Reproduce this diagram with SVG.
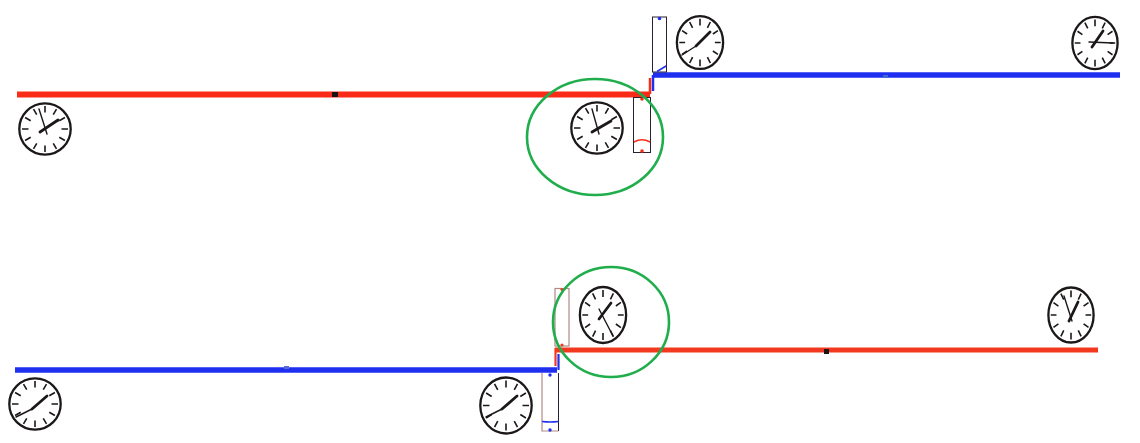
<svg xmlns="http://www.w3.org/2000/svg" width="1140" height="443" viewBox="0 0 1140 443">
<style>
.bg{fill:#fff}
.red{stroke:#fb2c17;fill:none}
.redb{stroke:#f2391f;fill:none}
.blue{stroke:#1f2ff0;fill:none}
.ring{stroke:#1fae4b;stroke-width:2.6;fill:none}
.face{fill:#fff;stroke:#1c1818;stroke-width:2.3;vector-effect:non-scaling-stroke}
.tick{stroke:#1c1818;stroke-width:1.6;fill:none;vector-effect:non-scaling-stroke}
.h{stroke:#1c1818;stroke-width:2.8;stroke-linecap:round;fill:none}
.m{stroke:#1c1818;stroke-width:1.4;stroke-linecap:round;fill:none}
.box{fill:#fff;stroke:#2a2030;stroke-width:1}
.boxp{fill:#fff;stroke:#b08a88;stroke-width:1.2}
</style>
<defs>
<g id="dial">
<ellipse class="face" rx="25.7" ry="25.7"/>
<path class="tick" d="M0-23V-16.500M0 23V16.500M-23 0H-16.500M23 0H16.500M11.500-19.900 8.250-14.300M-11.500-19.900-8.250-14.300M11.500 19.900 8.250 14.300M-11.500 19.900-8.250 14.300M19.900-11.500 14.300-8.250M-19.900-11.500-14.300-8.250M19.900 11.500 14.300 8.250M-19.900 11.500-14.300 8.250"/>
</g>
</defs>
<rect class="bg" width="1140" height="443"/>
<g id="connectors">
<path class="red" stroke-width="6" d="M17 94.500H650"/>
<path class="red" stroke-width="2.500" d="M650 78V94"/>
<path class="blue" stroke-width="5.500" d="M653 75H1120"/>
<path class="blue" stroke-width="2.500" d="M653 75V91"/>
<path class="blue" stroke-width="5.500" d="M15 370H557"/>
<path class="blue" stroke-width="2.200" d="M558.500 354V370"/>
<path class="redb" stroke-width="5" d="M555 350H1098"/>
<path class="redb" stroke-width="2.200" d="M555.500 348V366"/>
</g>
<g id="marker-top-red"><rect x="332" y="92" width="6" height="5" fill="#1c1414"/></g>
<g id="marker-top-blue"><rect x="883" y="75" width="5" height="3" fill="#3f6ad0"/></g>
<g id="marker-bottom-red"><rect x="824" y="349" width="5" height="5" fill="#1c1414"/></g>
<g id="marker-bottom-blue"><rect x="284" y="366" width="5" height="3" fill="#5a6ad0"/></g>
<g id="tank-top-blue">
<rect class="box" x="652.500" y="17" width="14" height="55"/>
<circle cx="659.500" cy="18.500" r="1.800" fill="#1f2ff0"/>
<path class="blue" stroke-width="1.500" d="M657 71.500 666 66"/>
</g>
<g id="tank-top-red">
<rect class="box" x="633.500" y="97.500" width="17" height="55"/>
<path class="red" stroke-width="1.500" d="M634 142Q642 137.500 650 142"/>
<circle cx="642" cy="99" r="1.800" fill="#fb2c17"/>
<circle cx="642" cy="151" r="1.800" fill="#fb2c17"/>
</g>
<g id="tank-bottom-upper">
<rect class="boxp" x="555" y="288.500" width="14" height="57.500"/>
<circle cx="562" cy="289.500" r="1.600" fill="#f2391f"/>
<circle cx="562" cy="345" r="1.600" fill="#f2391f"/>
</g>
<g id="tank-bottom-lower">
<path class="boxp" d="M542 373V431H558.500"/>
<path class="box" fill="none" d="M558.500 373V431"/>
<path class="blue" stroke-width="1.500" d="M542 421.500Q550 422.500 558.500 421.500"/>
<circle cx="550" cy="375" r="1.700" fill="#1f2ff0"/>
<circle cx="550" cy="430" r="1.700" fill="#1f2ff0"/>
</g>
<g id="clock-1">
<use href="#dial" transform="translate(45 129)"/>
<path class="h" d="M40 132 58 120"/><path class="m" d="M39 109 47 134"/>
</g>
<g id="clock-2">
<use href="#dial" transform="translate(597 128)"/>
<path class="h" d="M592 132 611 121"/><path class="m" d="M592 109 599 134"/>
</g>
<g id="clock-3">
<use href="#dial" transform="translate(700 42.500) scale(.9 1.030)"/>
<path class="h" d="M696 46 710 32"/><path class="m" d="M682 55 696 46"/>
</g>
<g id="clock-4">
<use href="#dial" transform="translate(1095 43) scale(.88 1.020)"/>
<path class="h" d="M1092 47 1103 31"/><path class="m" d="M1089 42 1113 43"/>
</g>
<g id="clock-5">
<use href="#dial" transform="translate(1071 315) scale(.88 1.070)"/>
<path class="h" d="M1069 321 1078 302"/><path class="m" d="M1072 321 1064 296"/>
</g>
<g id="clock-6">
<use href="#dial" transform="translate(603 315) scale(.9 1.090)"/>
<path class="h" d="M599 319 611 303"/><path class="m" d="M599 309 613 336"/>
</g>
<g id="clock-7">
<use href="#dial" transform="translate(35 404)"/>
<path class="h" d="M32 409 47 396"/><path class="m" d="M16 417 32 409"/>
</g>
<g id="clock-8">
<use href="#dial" transform="translate(506 405.500) scale(1 1.090)"/>
<path class="h" d="M502 409 517 396"/><path class="m" d="M486 417 502 409"/>
</g>
<g id="highlight-top"><ellipse class="ring" cx="595" cy="137" rx="68" ry="58"/></g>
<g id="highlight-bottom"><ellipse class="ring" cx="611" cy="322" rx="58" ry="55"/></g>
</svg>
